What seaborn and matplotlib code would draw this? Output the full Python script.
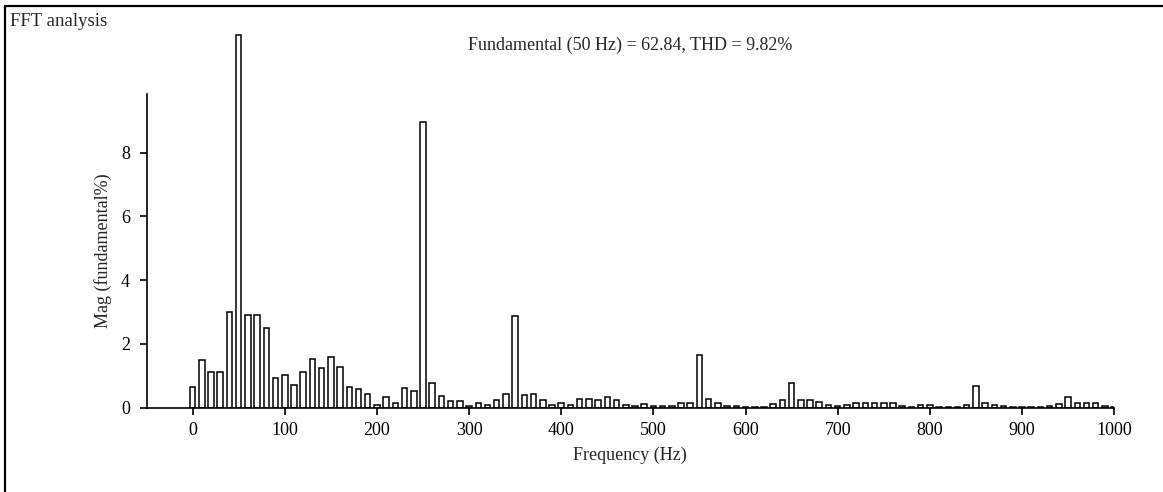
import matplotlib
matplotlib.use("Agg")
import matplotlib.pyplot as plt
import numpy as np
import pandas as pd
import seaborn as sns
from matplotlib.lines import Line2D

# harmonic bins, 10 Hz apart
freqs = np.arange(0, 1001, 10)

# magnitude in % of fundamental (the 50 Hz bar is shown clipped at the top of the plot)
mags = [
    0.66, 1.49, 1.13, 1.13, 3.01, 11.7, 2.90, 2.90, 2.49, 0.92,
    1.02, 0.71, 1.13, 1.53, 1.26, 1.60, 1.29, 0.66, 0.59, 0.43,
    0.08, 0.33, 0.16, 0.62, 0.52, 8.95, 0.78, 0.37, 0.21, 0.21,
    0.05, 0.16, 0.10, 0.24, 0.44, 2.87, 0.40, 0.42, 0.24, 0.10,
    0.16, 0.10, 0.28, 0.28, 0.24, 0.34, 0.24, 0.07, 0.05, 0.11,
    0.05, 0.06, 0.05, 0.14, 0.14, 1.65, 0.26, 0.14, 0.05, 0.05,
    0.02, 0.03, 0.03, 0.11, 0.24, 0.76, 0.24, 0.24, 0.19, 0.10,
    0.05, 0.08, 0.14, 0.14, 0.14, 0.14, 0.14, 0.06, 0.03, 0.08,
    0.08, 0.03, 0.03, 0.03, 0.10, 0.69, 0.14, 0.10, 0.06, 0.02,
    0.02, 0.03, 0.03, 0.05, 0.11, 0.34, 0.14, 0.14, 0.14, 0.05,
    0.02,
]

xticks = [0, 100, 200, 300, 400, 500, 600, 700, 800, 900, 1000]
yticks = [0, 2, 4, 6, 8]
info = "Fundamental (50 Hz) = 62.84, THD = 9.82%"

sns.set_style("white")
plt.rcParams["font.family"] = ["Liberation Serif", "DejaVu Serif"]
plt.rcParams["font.size"] = 13

df = pd.DataFrame({"freq": freqs, "mag": mags})

fig = plt.figure(figsize=(11.63, 4.92), dpi=100)
ax = fig.add_axes([0.126, 0.1713, 0.832, 0.778])

sns.barplot(data=df, x="freq", y="mag", native_scale=True, width=0.6,
            color="white", edgecolor="black", linewidth=1.1, ax=ax)
for p in ax.patches:
    p.set_facecolor("white")

ymax, spine_top = 12, 9.85
ax.set_xlim(-50, 1000)
ax.set_ylim(0, ymax)
ax.set_xticks(xticks)
ax.set_yticks(yticks)
ax.spines["top"].set_visible(False)
ax.spines["right"].set_visible(False)
ax.spines["left"].set_bounds(0, spine_top)
for s in ("left", "bottom"):
    ax.spines[s].set_linewidth(1.2)
    ax.spines[s].set_color("black")
ax.tick_params(axis="both", direction="out", length=5, width=1.2,
               colors="black", labelsize=13, bottom=True, left=True)
ax.tick_params(axis="y", pad=7)
ax.tick_params(axis="x", pad=5)
ax.set_xlabel("Frequency (Hz)", fontsize=13, labelpad=6)
ax.set_ylabel("Mag (fundamental%)", fontsize=13)
# centre the y label on the drawn part of the spine
ax.yaxis.set_label_coords(-0.036, spine_top / 2 / ymax)

fig.text(0.5415, 0.9085, info, ha="center", va="center", fontsize=13)
fig.text(0.009, 0.973, "FFT analysis", ha="left", va="top", fontsize=13.5)

# outer frame (top and left edges visible)
fig.add_artist(Line2D([0.0043, 0.0043], [0, 0.988], color="black", lw=1.6,
                      transform=fig.transFigure))
fig.add_artist(Line2D([0.0043, 1.0], [0.988, 0.988], color="black", lw=1.6,
                      transform=fig.transFigure))

fig.savefig("out.png", dpi=100, facecolor="white")
plt.close(fig)
